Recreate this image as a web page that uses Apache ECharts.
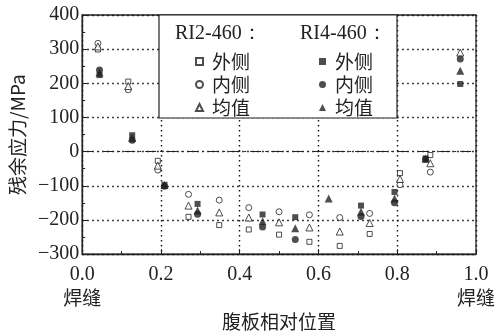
<!DOCTYPE html>
<html><head><meta charset="utf-8">
<script src="https://cdn.jsdelivr.net/npm/echarts@6/dist/echarts.min.js"></script>
<style>html,body{margin:0;padding:0;background:#fff}#c{width:499px;height:336px}</style>
</head><body><div id="c"></div>
<script>
// ---- data ----
const seriesNames = ['RI2-460 外侧','RI2-460 内侧','RI2-460 均值','RI4-460 外侧','RI4-460 内侧','RI4-460 均值'];
const legendTitles = ['RI2-460：','RI4-460：'];
const xEndLabel = '焊缝';
const xName = '腹板相对位置';
const yName = '残余应力/MPa';
// RI2-460 (open symbols)
const xOpen = [0.040,0.117,0.192,0.270,0.348,0.423,0.500,0.577,0.654,0.730,0.807,0.884,0.960];
const ri2Outer = [299,205,-27,-191,-215,-228,-243,-264,-276,-241,-63,-10,null];
const ri2Inner = [317,181,-54,-125,-142,-164,-176,-185,-193,-181,-97,-60,null];
const ri2Mean  = [308,192,-41,-158,-178,-193,-207,-222,-234,-209,-80,-34,290];
// RI4-460 (filled symbols)
const xFilled = [0.044,0.127,0.209,0.293,0.458,0.541,0.626,0.708,0.793,0.872,0.960];
const ri4Outer = [224,48,-97,-153,-184,-192,null,-158,-118,-20,198];
const ri4Inner = [239,33,-101,-183,-221,-257,null,-190,-150,-22,271];
const ri4Mean  = [231,40,-98,-172,-204,-224,-137,-176,-137,-21,237];

function pts(xs, ys){ const out=[]; xs.forEach((x,i)=>{ if(ys[i]!==null) out.push([x,ys[i]]); }); return out; }

const serif = "Liberation Serif";
const cjk = "Noto Sans CJK SC";
const ink = '#222';

const openStyle = {color:'#fff', borderColor:ink, borderWidth:1};
const fillStyle = {color:ink, borderColor:ink, borderWidth:0};

const series = [
  {name:'zero', type:'scatter', data:[], z:1,
   markLine:{silent:true, z:1, symbol:['none','none'], label:{show:false}, animation:false,
     lineStyle:{color:ink, width:1, type:[11,4,2,4]}, data:[{yAxis:0}]}},
  {name:seriesNames[0], type:'scatter', symbol:'rect', symbolSize:5, itemStyle:openStyle, data:pts(xOpen,ri2Outer), z:2},
  {name:seriesNames[1], type:'scatter', symbol:'circle', symbolSize:6, itemStyle:openStyle, data:pts(xOpen,ri2Inner), z:2},
  {name:seriesNames[2], type:'scatter', symbol:'triangle', symbolSize:7, itemStyle:openStyle, data:pts(xOpen,ri2Mean), z:2},
  {name:seriesNames[3], type:'scatter', symbol:'rect', symbolSize:6, itemStyle:fillStyle, data:pts(xFilled,ri4Outer), z:3},
  {name:seriesNames[4], type:'scatter', symbol:'circle', symbolSize:7, itemStyle:fillStyle, data:pts(xFilled,ri4Inner), z:3},
  {name:seriesNames[5], type:'scatter', symbol:'triangle', symbolSize:8, itemStyle:fillStyle, data:pts(xFilled,ri4Mean), z:3}
];

const tickCommon = {show:true, inside:true, length:5, lineStyle:{color:ink, width:1}};
const minorCommon = {show:true, splitNumber:2, length:3, lineStyle:{color:ink, width:1}};
const lineCommon = {show:true, onZero:false, lineStyle:{color:ink, width:1.3}};
const gridLine = {show:true, lineStyle:{color:'#111', width:1.4, type:[1.6,3.4]}};

const legendCommon = {orient:'vertical', itemWidth:7, itemHeight:7, itemGap:4, z:6,
  textStyle:{fontFamily:cjk, fontSize:19, color:ink, padding:[0,0,0,4]},
  formatter: n => n.split(' ')[1], selectedMode:false};

const option = {
  animation:false,
  backgroundColor:'#fff',
  grid:{left:79, right:23, top:15, bottom:78, show:true, borderColor:ink, borderWidth:1.3, backgroundColor:'transparent'},
  xAxis:{
    type:'value', min:0, max:1, interval:0.2,
    name:xName, nameLocation:'middle', nameGap:56,
    nameTextStyle:{fontFamily:cjk, fontSize:19, color:ink},
    axisLine:lineCommon, axisTick:tickCommon, minorTick:minorCommon,
    splitLine:gridLine,
    axisLabel:{margin:9, color:ink,
      formatter: v => { const s=v.toFixed(1); return (v===0||v===1) ? '{n|'+s+'}\n{c|'+xEndLabel+'}' : '{n|'+s+'}'; },
      rich:{n:{fontFamily:serif, fontSize:20, color:ink, lineHeight:23}, c:{fontFamily:cjk, fontSize:19, color:ink, lineHeight:23}}}
  },
  yAxis:{
    type:'value', min:-300, max:400, interval:100,
    name:yName, nameLocation:'middle', nameGap:50, nameRotate:90,
    nameTextStyle:{fontFamily:cjk, fontSize:19, color:ink},
    axisLine:lineCommon, axisTick:tickCommon, minorTick:minorCommon,
    splitLine:gridLine,
    axisLabel:{margin:3, fontFamily:serif, fontSize:20, color:ink,
      formatter: v => v<0 ? '\u2212'+Math.abs(v) : String(v)}
  },
  legend:[
    Object.assign({}, legendCommon, {left:190, top:47, data:seriesNames.slice(0,3)}),
    Object.assign({}, legendCommon, {left:314, top:47, data:seriesNames.slice(3,6)})
  ],
  graphic:[
    {type:'rect', z:4, shape:{x:159, y:15, width:238, height:103}, style:{fill:'#fff', stroke:ink, lineWidth:1.2}},
    {type:'text', z:6, left:175, top:24, style:{text:legendTitles[0], font:"20px 'Liberation Serif'", fill:ink}},
    {type:'text', z:6, left:300, top:24, style:{text:legendTitles[1], font:"20px 'Liberation Serif'", fill:ink}}
  ],
  series: series
};
const chart = echarts.init(document.getElementById('c'), null, {renderer:'canvas'});
chart.setOption(option);
</script></body></html>
